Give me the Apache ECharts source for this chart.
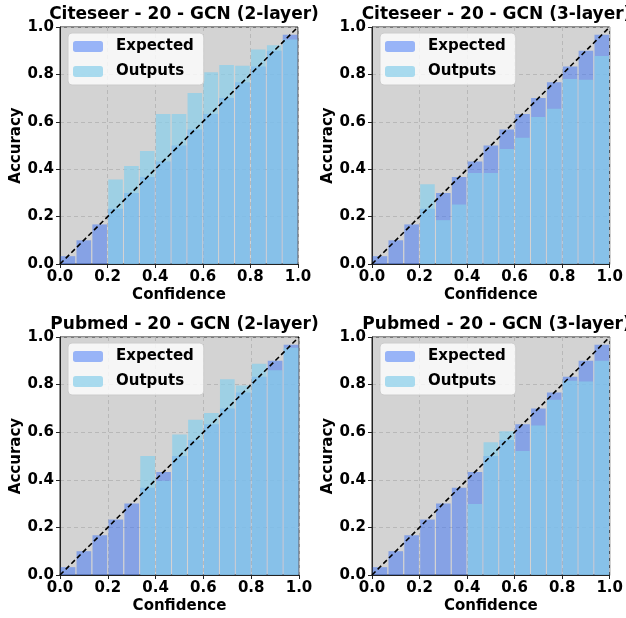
<!DOCTYPE html>
<html>
<head>
<meta charset="utf-8">
<script src="https://cdn.jsdelivr.net/npm/echarts@6/dist/echarts.min.js"></script>
<style>
  html, body { margin: 0; padding: 0; background: #fff; }
  #chart { width: 626px; height: 618px; }
</style>
</head>
<body>
<div id="chart"></div>
<script>
// 15 confidence bins
var binNames = ['b0','b1','b2','b3','b4','b5','b6','b7','b8','b9','b10','b11','b12','b13','b14'];
// expected accuracy = bin centre
var expected = [0.033, 0.1, 0.167, 0.233, 0.3, 0.367, 0.433, 0.5, 0.567, 0.633, 0.7, 0.767, 0.833, 0.9, 0.967];

var citeseer2 = [0, 0, 0, 0.357, 0.414, 0.477, 0.633, 0.633, 0.722, 0.809, 0.840, 0.837, 0.905, 0.923, 0.947];
var citeseer3 = [0, 0, 0, 0.337, 0.185, 0.251, 0.384, 0.384, 0.485, 0.533, 0.620, 0.655, 0.781, 0.777, 0.878];
var pubmed2   = [0, 0, 0, 0, 0, 0.500, 0.396, 0.590, 0.652, 0.681, 0.822, 0.796, 0.888, 0.860, 0.955];
var pubmed3   = [0, 0, 0, 0, 0, 0, 0.298, 0.558, 0.604, 0.521, 0.628, 0.736, 0.816, 0.813, 0.900];

var diagonal = [[0, 0], [1, 1]];

var panels = [
    {title: 'Citeseer - 20 - GCN (2-layer)', data: citeseer2, left: 60,  top: 27,  width: 238, height: 237},
    {title: 'Citeseer - 20 - GCN (3-layer)', data: citeseer3, left: 372, top: 27,  width: 239, height: 237},
    {title: 'Pubmed - 20 - GCN (2-layer)',   data: pubmed2,   left: 60,  top: 337, width: 239, height: 238},
    {title: 'Pubmed - 20 - GCN (3-layer)',   data: pubmed3,   left: 372, top: 337, width: 239, height: 238}
];

var FONT = '"DejaVu Sans", sans-serif';
var EXP_COLOR = 'rgba(57,113,247,0.5)';
var OUT_COLOR = 'rgba(135,206,235,0.7)';

var option = {
    animation: false,
    title: [],
    legend: [],
    grid: [],
    xAxis: [],
    yAxis: [],
    series: []
};

panels.forEach(function(p, k){
    option.title.push({
        text: p.title,
        left: p.left + p.width / 2,
        top: p.top - 26,
        textAlign: 'center',
        textStyle: {fontFamily: FONT, fontWeight: 'bold', fontSize: 17, color: '#000'}
    });

    option.grid.push({
        left: p.left, top: p.top, width: p.width, height: p.height,
        show: true,
        backgroundColor: '#d3d3d3',
        borderColor: '#222',
        borderWidth: 1
    });

    // hidden category axis that holds the bars
    option.xAxis.push({
        type: 'category',
        gridIndex: k,
        position: 'top',
        data: binNames,
        boundaryGap: true,
        show: false
    });
    // visible value axis for ticks and the diagonal
    option.xAxis.push({
        type: 'value',
        gridIndex: k,
        position: 'bottom',
        min: 0, max: 1, interval: 0.2,
        name: 'Confidence',
        nameLocation: 'middle',
        nameGap: 24,
        nameTextStyle: {fontFamily: FONT, fontWeight: 'bold', fontSize: 15, color: '#000'},
        axisLine: {show: true, onZero: false, lineStyle: {color: '#222', width: 1}},
        axisTick: {show: true, length: 4, lineStyle: {color: '#222'}},
        axisLabel: {
            fontFamily: FONT, fontWeight: 'bold', fontSize: 15, color: '#000', margin: 6,
            formatter: function(v){ return v.toFixed(1); }
        },
        splitLine: {show: true, lineStyle: {color: '#b8b8b8', type: [4, 3], width: 1}}
    });

    option.yAxis.push({
        type: 'value',
        gridIndex: k,
        min: 0, max: 1, interval: 0.2,
        name: 'Accuracy',
        nameLocation: 'middle',
        nameGap: 36,
        nameTextStyle: {fontFamily: FONT, fontWeight: 'bold', fontSize: 15, color: '#000'},
        axisLine: {show: true, lineStyle: {color: '#222', width: 1}},
        axisTick: {show: true, length: 4, lineStyle: {color: '#222'}},
        axisLabel: {
            fontFamily: FONT, fontWeight: 'bold', fontSize: 15, color: '#000', margin: 6,
            formatter: function(v){ return v.toFixed(1); }
        },
        splitLine: {show: true, lineStyle: {color: '#b8b8b8', type: [4, 3], width: 1}}
    });

    option.series.push({
        name: 'Expected',
        type: 'bar',
        xAxisIndex: 2 * k,
        yAxisIndex: k,
        data: expected,
        barCategoryGap: '8%',
        barGap: '-100%',
        itemStyle: {color: EXP_COLOR},
        z: 2
    });
    option.series.push({
        name: 'Outputs',
        type: 'bar',
        xAxisIndex: 2 * k,
        yAxisIndex: k,
        data: p.data,
        barCategoryGap: '8%',
        barGap: '-100%',
        itemStyle: {color: OUT_COLOR},
        z: 3
    });
    option.series.push({
        name: 'diag',
        type: 'line',
        xAxisIndex: 2 * k + 1,
        yAxisIndex: k,
        data: diagonal,
        symbol: 'none',
        lineStyle: {color: '#000', width: 1.6, type: [5, 3]},
        z: 5
    });

    option.legend.push({
        data: ['Expected', 'Outputs'],
        orient: 'vertical',
        left: p.left + 8,
        top: p.top + 6,
        itemWidth: 30,
        itemHeight: 11,
        itemGap: 10,
        padding: [6, 10, 6, 5],
        backgroundColor: 'rgba(255,255,255,0.8)',
        borderColor: '#cccccc',
        borderWidth: 1,
        borderRadius: 4,
        selectedMode: false,
        textStyle: {fontFamily: FONT, fontWeight: 'bold', fontSize: 15, color: '#000', padding: [0, 0, 0, 8]}
    });
});

var myChart = echarts.init(document.getElementById('chart'), null, {renderer: 'canvas'});
myChart.setOption(option);
</script>
</body>
</html>
